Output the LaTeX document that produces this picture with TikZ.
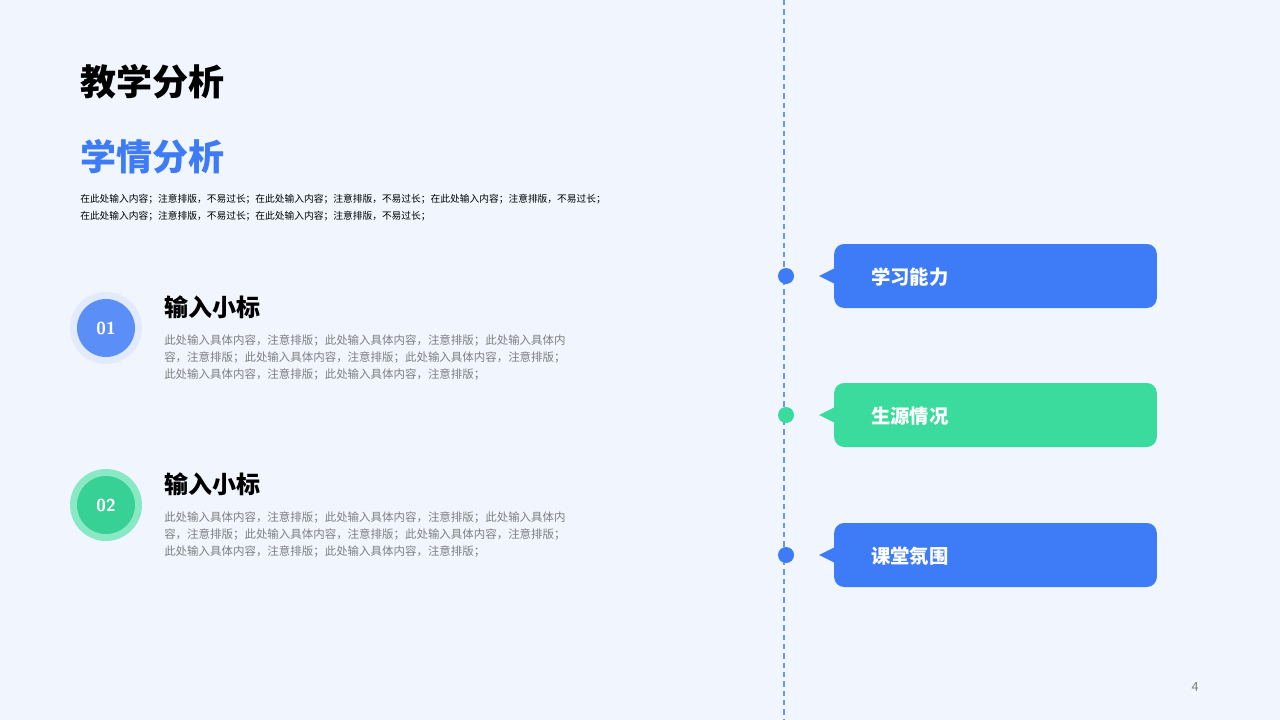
\documentclass[tikz,border=0pt]{standalone}
\usepackage{fontspec}
\setmainfont{Noto Sans CJK SC}
\definecolor{bg}{HTML}{F0F5FE}
\definecolor{myblue}{HTML}{3E7BF6}
\definecolor{mygreen}{HTML}{3ADB9D}
\definecolor{gtxt}{HTML}{7F7F7F}
\tikzset{
  tl/.style={anchor=west,inner sep=0pt,font=\bfseries\fontsize{27}{27}\selectfont},
  sub/.style={anchor=west,inner sep=0pt,font=\bfseries\fontsize{18}{18}\selectfont},
  body/.style={anchor=north west,inner sep=0pt,align=left,text=gtxt,font=\fontsize{8.6}{12.75}\selectfont},
  card/.style={rounded corners=7.5pt,minimum width=242pt,minimum height=48pt,inner sep=0pt,text=white},
  cardtxt/.style={anchor=west,inner sep=0pt,text=white,font=\bfseries\fontsize{14.5}{14.5}\selectfont},
  dotn/.style={circle,inner sep=0pt,minimum size=12pt}
}
\begin{document}
\begin{tikzpicture}[x=0.75pt,y=-0.75pt]
\fill[bg] (0,0) rectangle (1280,720);
\useasboundingbox (0,0) rectangle (1280,720);
\node[tl] (t1) at (80,82) {教学分析};
\node[tl,text=myblue] (t2) at (80,157) {学情分析};
\node[anchor=north west,inner sep=0pt,align=left,font=\fontsize{7.3}{12.75}\selectfont] (intro) at (80,194) {在此处输入内容；注意排版，不易过长；在此处输入内容；注意排版，不易过长；在此处输入内容；注意排版，不易过长；\\在此处输入内容；注意排版，不易过长；在此处输入内容；注意排版，不易过长；};
% item 1
\fill[myblue!15] (106,328) circle (36);
\node[circle,fill=myblue!85,minimum size=43.5pt,inner sep=0pt,text=white,font=\bfseries\sffamily\fontsize{13}{13}\selectfont] (c1) at (106,328) {01};
\node[sub] (s1) at (164,307) {输入小标};
\node[body] (b1) at (164,334) {此处输入具体内容，注意排版；此处输入具体内容，注意排版；此处输入具体内\\容，注意排版；此处输入具体内容，注意排版；此处输入具体内容，注意排版；\\此处输入具体内容，注意排版；此处输入具体内容，注意排版；};
% item 2
\fill[mygreen!60] (106,505) circle (36);
\node[circle,fill=mygreen!95!black,minimum size=43.5pt,inner sep=0pt,text=white,font=\bfseries\sffamily\fontsize{13}{13}\selectfont] (c2) at (106,505) {02};
\node[sub] (s2) at (164,484) {输入小标};
\node[body] (b2) at (164,511) {此处输入具体内容，注意排版；此处输入具体内容，注意排版；此处输入具体内\\容，注意排版；此处输入具体内容，注意排版；此处输入具体内容，注意排版；\\此处输入具体内容，注意排版；此处输入具体内容，注意排版；};
% timeline
\coordinate (top) at (784,0);
\coordinate (bot) at (784,720);
\draw[myblue!80,line width=1.3pt,dash pattern=on 4pt off 3pt] (top) -- (bot);
\foreach \y/\c/\t/\n in {276/myblue/学习能力/a,415/mygreen/生源情况/b,555/myblue/课堂氛围/c}{
  \node[dotn,fill=\c] (d\n) at (786,\y) {};
  \node[card,fill=\c] (k\n) at (995.5,\y) {};
  \fill[\c] (819,\y) -- (835,\y-8) -- (835,\y+8) -- cycle;
  \node[cardtxt] at (871,\y+1) {\t};
}
\node[text=gtxt,font=\fontsize{9.5}{9.5}\selectfont] (pg) at (1195,687) {4};
\end{tikzpicture}
\end{document}
